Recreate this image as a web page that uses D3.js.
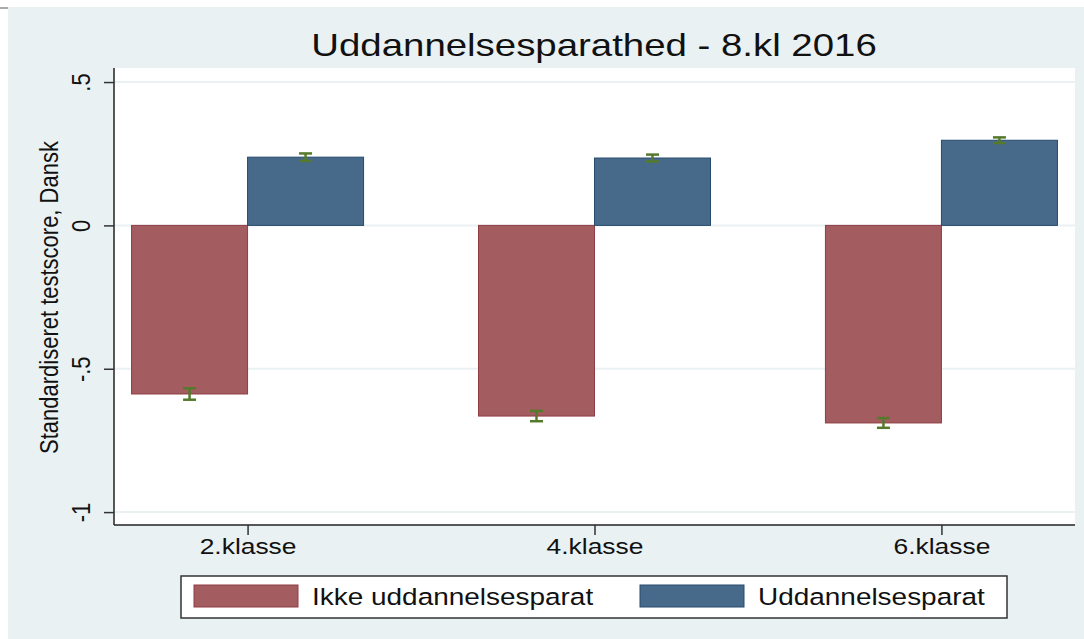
<!DOCTYPE html>
<html>
<head>
<meta charset="utf-8">
<script src="https://cdn.jsdelivr.net/npm/d3@7"></script>
<style>
  body { margin: 0; background: #fff; }
  text { font-family: "Liberation Sans", Arial, sans-serif; fill: #111; }
</style>
</head>
<body>
<div id="chart"></div>
<script>
// data
var categories = ["2.klasse", "4.klasse", "6.klasse"];
var seriesNames = ["Ikke uddannelsesparat", "Uddannelsesparat"];
var ikkeValues = [-0.588, -0.665, -0.689];
var ikkeErr = [0.020, 0.018, 0.017];
var paratValues = [0.238, 0.235, 0.297];
var paratErr = [0.013, 0.012, 0.010];
var yTicks = [-1, -0.5, 0, 0.5];
var yTickLabels = ["-1", "-.5", "0", ".5"];

var W = 1084, H = 639;
var SX = 1.2; // the reference text is a bit stretched horizontally
var plot = {left: 114, right: 1075, top: 68, bottom: 525};
var colors = ["#a35c60", "#476a8a"];
var strokes = ["#8f3d44", "#264a6c"];
var errColor = "#557a2c";

var svg = d3.select("#chart").append("svg")
    .attr("width", W)
    .attr("height", H);

// outer background
svg.append("rect")
    .attr("x", 8).attr("y", 7)
    .attr("width", W - 8).attr("height", H - 7)
    .attr("fill", "#eaf1f3");
svg.append("line")
    .attr("x1", 0).attr("x2", 8).attr("y1", 8).attr("y2", 8)
    .attr("stroke", "#555").attr("stroke-width", 1);

// scales
var y = d3.scaleLinear()
    .domain([-1.045, 0.549])
    .range([plot.bottom, plot.top]);
var x = d3.scalePoint()
    .domain(categories)
    .range([plot.left, plot.right])
    .padding(0.385);
var barW = 116;

// plot region
svg.append("rect")
    .attr("x", plot.left).attr("y", plot.top)
    .attr("width", plot.right - plot.left).attr("height", plot.bottom - plot.top)
    .attr("fill", "#fff");

// grid
svg.selectAll(".grid")
    .data(yTicks)
  .enter().append("line")
    .attr("class", "grid")
    .attr("x1", plot.left).attr("x2", plot.right)
    .attr("y1", function(d) { return y(d); })
    .attr("y2", function(d) { return y(d); })
    .attr("stroke", "#eaf1f3")
    .attr("stroke-width", 2);

// bars
var series = [
  {name: seriesNames[0], values: ikkeValues, err: ikkeErr, off: -1},
  {name: seriesNames[1], values: paratValues, err: paratErr, off: 0}
];

series.forEach(function(s, si) {
  svg.selectAll(".bar" + si)
      .data(categories)
    .enter().append("rect")
      .attr("class", "bar" + si)
      .attr("x", function(c) { return x(c) + s.off * barW; })
      .attr("width", barW)
      .attr("y", function(c, i) { return Math.min(y(0), y(s.values[i])); })
      .attr("height", function(c, i) { return Math.abs(y(0) - y(s.values[i])); })
      .attr("fill", colors[si])
      .attr("stroke", strokes[si])
      .attr("stroke-width", 1);
});

// error bars
series.forEach(function(s, si) {
  categories.forEach(function(c, i) {
    var cx = x(c) + s.off * barW + barW / 2;
    var lo = y(s.values[i] - s.err[i]), hi = y(s.values[i] + s.err[i]);
    var g = svg.append("g")
        .attr("stroke", errColor)
        .attr("stroke-width", 2.5);
    g.append("line").attr("x1", cx).attr("x2", cx).attr("y1", lo).attr("y2", hi);
    g.append("line").attr("x1", cx - 6.5).attr("x2", cx + 6.5).attr("y1", lo).attr("y2", lo);
    g.append("line").attr("x1", cx - 6.5).attr("x2", cx + 6.5).attr("y1", hi).attr("y2", hi);
  });
});

// y axis
var yAxis = svg.append("g")
    .attr("transform", "translate(" + plot.left + ",0)")
    .call(d3.axisLeft(y)
      .tickValues(yTicks)
      .tickSize(10)
      .tickFormat(function(d, i) { return yTickLabels[i]; }));
yAxis.select(".domain")
    .attr("d", "M0," + plot.top + "V" + plot.bottom)
    .attr("stroke", "#222").attr("stroke-width", 1.5);
yAxis.selectAll(".tick line").attr("stroke", "#333").attr("stroke-width", 1.5);
yAxis.selectAll(".tick text")
    .attr("x", null).attr("dy", null)
    .attr("text-anchor", "middle")
    .attr("transform", "translate(-24,0) scale(" + SX + ",1) rotate(-90)")
    .style("font-size", "22px")
    .style("font-family", "Liberation Sans, Arial, sans-serif")
    .attr("fill", "#111");

// x axis
var xAxis = svg.append("g")
    .attr("transform", "translate(0," + plot.bottom + ")")
    .call(d3.axisBottom(x).tickSize(10));
xAxis.select(".domain")
    .attr("d", "M" + plot.left + ",0H" + plot.right)
    .attr("stroke", "#222").attr("stroke-width", 1.5);
xAxis.selectAll(".tick line").attr("stroke", "#333").attr("stroke-width", 1.5);
xAxis.selectAll(".tick text")
    .attr("y", null).attr("dy", null)
    .attr("transform", "translate(0,29) scale(" + SX + ",1)")
    .style("font-size", "22px")
    .style("font-family", "Liberation Sans, Arial, sans-serif")
    .attr("fill", "#111");

// title
svg.append("text")
    .attr("transform", "translate(594,56) scale(" + SX + ",1)")
    .attr("text-anchor", "middle")
    .style("font-size", "32px")
    .text("Uddannelsesparathed - 8.kl 2016");

// y title
svg.append("text")
    .attr("transform", "translate(58," + ((plot.top + plot.bottom) / 2 + 1) + ") scale(" + SX + ",1) rotate(-90)")
    .attr("text-anchor", "middle")
    .style("font-size", "22px")
    .text("Standardiseret testscore, Dansk");

// legend
var legend = svg.append("g");
legend.append("rect")
    .attr("x", 181).attr("y", 576)
    .attr("width", 826).attr("height", 42)
    .attr("fill", "#fff")
    .attr("stroke", "#333").attr("stroke-width", 1.5);
var legX = [194, 640];
seriesNames.forEach(function(n, i) {
  legend.append("rect")
      .attr("x", legX[i]).attr("y", 585)
      .attr("width", 104).attr("height", 22)
      .attr("fill", colors[i])
      .attr("stroke", strokes[i]).attr("stroke-width", 1);
  legend.append("text")
      .attr("transform", "translate(" + (legX[i] + 118) + ",605) scale(" + SX + ",1)")
      .style("font-size", "23.3px")
      .text(n);
});
</script>
</body>
</html>
